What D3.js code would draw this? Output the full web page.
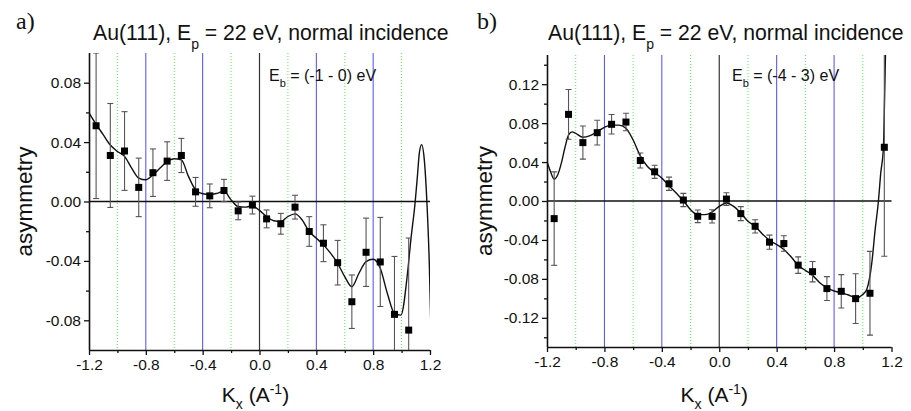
<!DOCTYPE html>
<html><head><meta charset="utf-8">
<script src="https://cdn.jsdelivr.net/npm/d3@7"></script>
<style>body{margin:0;background:#fff}svg{display:block}</style>
</head><body>
<svg id="c" width="911" height="411"></svg>
<script>
// ---------- data ----------
const xTicks = [-1.2, -0.8, -0.4, 0.0, 0.4, 0.8, 1.2];
const xMinorTicks = [-1.0, -0.6, -0.2, 0.2, 0.6, 1.0];
const blueLines = [-0.8, -0.4, 0.4, 0.8];
const greenLines = [-1.0, -0.6, -0.2, 0.2, 0.6, 1.0];
const blackLines = [0.0];

const leftYTicks = [-0.08, -0.04, 0.00, 0.04, 0.08];
const leftYMinor = [-0.06, -0.02, 0.02, 0.06];
const rightYTicks = [-0.12, -0.08, -0.04, 0.00, 0.04, 0.08, 0.12];
const rightYMinor = [-0.14, -0.10, -0.06, -0.02, 0.02, 0.06, 0.10, 0.14];

const leftKx = [-1.15,-1.05,-0.95,-0.85,-0.75,-0.65,-0.55,-0.45,-0.35,-0.25,-0.15,-0.05,0.05,0.15,0.25,0.35,0.45,0.55,0.65,0.75,0.85,0.95,1.05];
const leftAsym = [0.051,0.031,0.034,0.0095,0.0194,0.0272,0.031,0.0065,0.0038,0.0074,-0.0063,-0.0024,-0.0117,-0.015,-0.0038,-0.0202,-0.0281,-0.0412,-0.0675,-0.0342,-0.0407,-0.076,-0.0866];
const leftErr = [0.049,0.035,0.0265,0.0197,0.016,0.013,0.0115,0.0097,0.008,0.0075,0.006,0.006,0.006,0.007,0.008,0.010,0.0124,0.015,0.018,0.023,0.030,0.039,0.062];

const leftCurveX = [-1.2,-1.15,-1.1,-1.05,-1.0,-0.95,-0.9,-0.85,-0.8,-0.75,-0.7,-0.65,-0.6,-0.55,-0.5,-0.45,-0.4,-0.35,-0.3,-0.25,-0.2,-0.15,-0.1,-0.05,0.0,0.05,0.1,0.15,0.2,0.25,0.3,0.35,0.4,0.45,0.5,0.55,0.6,0.65,0.7,0.75,0.8,0.85,0.9,0.95,0.995,1.042,1.065,1.096,1.113,1.125,1.141,1.16,1.178,1.195,1.205];
const leftCurveY = [0.0597,0.052,0.045,0.038,0.0337,0.0304,0.0225,0.0158,0.0146,0.018,0.0225,0.027,0.0288,0.028,0.0169,0.0079,0.0052,0.0047,0.0055,0.007,0.0011,-0.0034,-0.0038,-0.003,-0.006,-0.0101,-0.013,-0.0135,-0.0101,-0.0083,-0.0124,-0.0203,-0.0247,-0.0292,-0.0348,-0.0416,-0.0506,-0.0574,-0.0483,-0.0405,-0.0389,-0.045,-0.0619,-0.0753,-0.0765,-0.048,-0.026,0.0,0.019,0.0327,0.0383,0.028,0.0,-0.0416,-0.08];

const rightKx = [-1.15,-1.05,-0.95,-0.85,-0.75,-0.65,-0.55,-0.45,-0.35,-0.25,-0.15,-0.05,0.05,0.15,0.25,0.35,0.45,0.55,0.65,0.75,0.85,0.95,1.05,1.15];
const rightAsym = [-0.0181,0.089,0.06,0.0702,0.0788,0.0811,0.0416,0.03,0.0177,0.001,-0.0157,-0.0158,0.002,-0.013,-0.026,-0.0423,-0.0437,-0.0659,-0.0726,-0.09,-0.0928,-0.1003,-0.0948,0.0552];
const rightErr = [0.048,0.0256,0.017,0.0127,0.01,0.009,0.0077,0.0068,0.0068,0.0068,0.0065,0.0068,0.0065,0.0072,0.0068,0.0072,0.008,0.0085,0.0105,0.0123,0.0172,0.0255,0.043,0.112];

const rightCurveX = [-1.2,-1.175,-1.15,-1.125,-1.1,-1.075,-1.05,-1.025,-1.0,-0.95,-0.9,-0.85,-0.8,-0.75,-0.7,-0.65,-0.6,-0.55,-0.5,-0.45,-0.4,-0.35,-0.3,-0.25,-0.2,-0.15,-0.1,-0.05,0.0,0.05,0.1,0.15,0.2,0.25,0.3,0.35,0.4,0.45,0.5,0.55,0.6,0.65,0.7,0.75,0.8,0.85,0.9,0.958,1.0,1.028,1.063,1.086,1.109,1.125,1.144,1.151,1.158,1.165];
const rightCurveY = [0.0405,0.030,0.0225,0.027,0.0389,0.055,0.0678,0.071,0.0695,0.0655,0.0671,0.0712,0.0757,0.078,0.078,0.0747,0.0627,0.0463,0.0354,0.0293,0.0235,0.0157,0.0082,0.0003,-0.0089,-0.014,-0.014,-0.0113,-0.0055,-0.002,-0.0055,-0.0123,-0.0209,-0.026,-0.0338,-0.0403,-0.0447,-0.0498,-0.0573,-0.0662,-0.0713,-0.0764,-0.0839,-0.089,-0.0925,-0.0941,-0.0966,-0.0993,-0.096,-0.0907,-0.0634,-0.0294,0.0,0.0286,0.0559,0.1,0.15,0.2];

const panelLabels = ["a)", "b)"];
const titleMain = ["Au(111), E", " = 22 eV, normal incidence"];
const titleSub = "p";
const innerLabels = [["E", "b", " = (-1 - 0) eV"], ["E", "b", " = (-4 - 3) eV"]];
const yLabel = "asymmetry";

// ---------- drawing ----------
const svg = d3.select("#c");
const SANS = "'Liberation Sans', Arial, Helvetica, sans-serif";
const SERIF = "'Liberation Serif', 'Times New Roman', serif";

const panels = [
  {x0:89, x1:430, yTop:53, yBot:350, dom:[-0.1,0.1], yT:leftYTicks, yM:leftYMinor,
   kx:leftKx, v:leftAsym, e:leftErr, cx:leftCurveX, cy:leftCurveY,
   lab:panelLabels[0], labX:16, titleX:93, inner:innerLabels[0], innerX:269, yLabX:32, xlShift:-4},
  {x0:547, x1:891.5, yTop:55, yBot:347, dom:[-0.15,0.15], yT:rightYTicks, yM:rightYMinor,
   kx:rightKx, v:rightAsym, e:rightErr, cx:rightCurveX, cy:rightCurveY,
   lab:panelLabels[1], labX:477, titleX:548, inner:innerLabels[1], innerX:732, yLabX:492, xlShift:-5}
];

panels.forEach((p, i) => {
  const x = d3.scaleLinear().domain([-1.2, 1.2]).range([p.x0, p.x1]);
  const y = d3.scaleLinear().domain(p.dom).range([p.yBot, p.yTop]);
  const g = svg.append("g");
  const clipId = "clip" + i;
  svg.append("clipPath").attr("id", clipId).append("rect")
    .attr("x", p.x0).attr("y", p.yTop).attr("width", p.x1 - p.x0).attr("height", p.yBot - p.yTop);

  // reference vertical lines
  g.selectAll(".gl").data(greenLines).join("line")
    .attr("x1", d => x(d)).attr("x2", d => x(d)).attr("y1", p.yTop).attr("y2", p.yBot)
    .attr("stroke", "#55f055").attr("stroke-width", 1).attr("stroke-dasharray", "1,2");
  g.selectAll(".bl").data(blueLines).join("line")
    .attr("x1", d => x(d)).attr("x2", d => x(d)).attr("y1", p.yTop).attr("y2", p.yBot)
    .attr("stroke", "#4a4aff").attr("stroke-width", 1);
  g.selectAll(".kl").data(blackLines).join("line")
    .attr("x1", d => x(d)).attr("x2", d => x(d)).attr("y1", p.yTop).attr("y2", p.yBot)
    .attr("stroke", "#333").attr("stroke-width", 1.2);
  // zero line
  g.append("line").attr("x1", p.x0).attr("x2", p.x1).attr("y1", y(0)).attr("y2", y(0))
    .attr("stroke", "#111").attr("stroke-width", 1.3);

  // axes
  const fmtY = d => d.toFixed(2);
  const fmtX = d => d.toFixed(1);
  const ax = g.append("g").attr("transform", `translate(0,${p.yBot})`)
    .call(d3.axisBottom(x).tickValues(xTicks).tickFormat(fmtX).tickSize(5).tickSizeOuter(0).tickPadding(4));
  const axm = g.append("g").attr("transform", `translate(0,${p.yBot})`)
    .call(d3.axisBottom(x).tickValues(xMinorTicks).tickFormat("").tickSize(3).tickSizeOuter(0));
  const ay = g.append("g").attr("transform", `translate(${p.x0},0)`)
    .call(d3.axisLeft(y).tickValues(p.yT).tickFormat(fmtY).tickSize(5).tickSizeOuter(0).tickPadding(3));
  const aym = g.append("g").attr("transform", `translate(${p.x0},0)`)
    .call(d3.axisLeft(y).tickValues(p.yM).tickFormat("").tickSize(3).tickSizeOuter(0));
  [ax, axm, ay, aym].forEach(a => {
    a.select(".domain").attr("stroke", "#111").attr("stroke-width", 1.6);
    a.selectAll(".tick line").attr("stroke", "#111").attr("stroke-width", 1.3);
    a.selectAll("text").attr("font-family", SANS).attr("font-size", 15.5).attr("fill", "#111");
  });
  ay.select(".domain").attr("d", `M0.5,${p.yTop}V${p.yBot}`);
  ax.select(".domain").attr("d", `M${p.x0},0.5H${p.x1}`);
  axm.select(".domain").remove();
  aym.select(".domain").remove();

  // curve
  const pts = p.cx.map((d, k) => [d, p.cy[k]]);
  g.append("path").datum(pts).attr("clip-path", `url(#${clipId})`)
    .attr("fill", "none").attr("stroke", "#111").attr("stroke-width", 1.4)
    .attr("d", d3.line().x(d => x(d[0])).y(d => y(d[1])).curve(d3.curveMonotoneX));

  // error bars
  const data = p.kx.map((d, k) => ({k: d, v: p.v[k], e: p.e[k]}));
  const eg = g.append("g").attr("clip-path", `url(#${clipId})`).attr("stroke", "#555").attr("stroke-width", 1.1);
  eg.selectAll(".ev").data(data).join("line")
    .attr("x1", d => x(d.k)).attr("x2", d => x(d.k))
    .attr("y1", d => y(d.v + d.e)).attr("y2", d => y(d.v - d.e));
  eg.selectAll(".et").data(data).join("line")
    .attr("x1", d => x(d.k) - 3).attr("x2", d => x(d.k) + 3)
    .attr("y1", d => y(d.v + d.e)).attr("y2", d => y(d.v + d.e));
  eg.selectAll(".eb").data(data).join("line")
    .attr("x1", d => x(d.k) - 3).attr("x2", d => x(d.k) + 3)
    .attr("y1", d => y(d.v - d.e)).attr("y2", d => y(d.v - d.e));
  // markers
  g.selectAll(".m").data(data).join("rect")
    .attr("x", d => x(d.k) - 3.5).attr("y", d => y(d.v) - 3.5)
    .attr("width", 7).attr("height", 7).attr("fill", "#000");

  // panel label
  svg.append("text").attr("x", p.labX).attr("y", 29).attr("font-family", SERIF)
    .attr("font-size", 24).attr("fill", "#111").text(p.lab);
  // title
  const t = svg.append("text").attr("x", p.titleX).attr("y", 40).attr("font-family", SANS)
    .attr("font-size", 21.2).attr("fill", "#111");
  t.append("tspan").text(titleMain[0]);
  t.append("tspan").attr("dy", 9).attr("font-size", 14).text(titleSub);
  t.append("tspan").attr("dy", -9).text(titleMain[1]);
  // inner label
  const il = svg.append("text").attr("x", p.innerX).attr("y", 81).attr("font-family", SANS)
    .attr("font-size", 16).attr("fill", "#111");
  il.append("tspan").text(p.inner[0]);
  il.append("tspan").attr("dy", 6).attr("font-size", 11).text(p.inner[1]);
  il.append("tspan").attr("dy", -6).text(p.inner[2]);
  // y label
  svg.append("text").attr("transform", `translate(${p.yLabX},${(p.yTop + p.yBot) / 2}) rotate(-90)`)
    .attr("text-anchor", "middle").attr("font-family", SANS).attr("font-size", 22.5)
    .attr("fill", "#111").text(yLabel);
  // x label
  const xc = (p.x0 + p.x1) / 2 + p.xlShift;
  const xl = svg.append("text").attr("x", xc).attr("y", 402).attr("text-anchor", "middle")
    .attr("font-family", SANS).attr("font-size", 21).attr("fill", "#111");
  xl.append("tspan").text("K");
  xl.append("tspan").attr("dy", 7).attr("font-size", 14).text("x");
  xl.append("tspan").attr("dy", -7).text(" (A");
  xl.append("tspan").attr("dy", -8).attr("font-size", 14).text("-1");
  xl.append("tspan").attr("dy", 8).text(")");
});
</script>
</body></html>
